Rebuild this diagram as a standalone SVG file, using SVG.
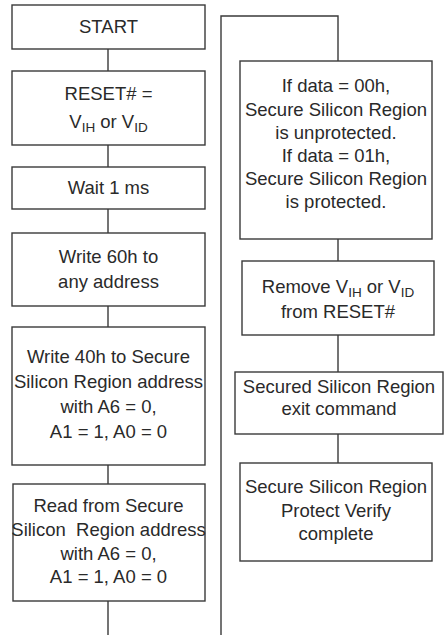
<svg xmlns="http://www.w3.org/2000/svg" width="444" height="635" viewBox="0 0 444 635">
<style>
.b{fill:#fff;stroke:#3a3a3a;stroke-width:1.4}
.c{fill:none;stroke:#3a3a3a;stroke-width:1.4}
text{font-family:"Liberation Sans",Arial,sans-serif;font-size:18.5px;fill:#2a2a2a;text-anchor:middle}
tspan.s{font-size:13.5px}
</style>
<rect width="444" height="635" fill="#fff"/>
<g id="connectors">
<path class="c" d="M108,49V71M108,145V167M108,209V233M108,306V327M108,465V484M108,601V635"/>
<path class="c" d="M221,635V16H338V61"/>
<path class="c" d="M338,239V261M338,335V372M338,434V463"/>
</g>
<g id="start"><rect class="b" x="12" y="5" width="193" height="44"/><text x="108.5" y="33">START</text></g>
<g id="reset"><rect class="b" x="12" y="71" width="193" height="74"/><text x="108.5" y="100">RESET# =</text><text x="108.5" y="128">V<tspan class="s" dy="4">IH</tspan><tspan dy="-4"> or V</tspan><tspan class="s" dy="4">ID</tspan></text></g>
<g id="wait"><rect class="b" x="12" y="167" width="193" height="42"/><text x="108.5" y="194">Wait 1 ms</text></g>
<g id="write60"><rect class="b" x="12" y="233" width="193" height="73"/><text x="108.5" y="263">Write 60h to</text><text x="108.5" y="288">any address</text></g>
<g id="write40"><rect class="b" x="12" y="327" width="193" height="138"/><text x="108.5" y="363">Write 40h to Secure</text><text x="108.5" y="388">Silicon Region address</text><text x="108.5" y="413">with A6 = 0,</text><text x="108.5" y="438">A1 = 1, A0 = 0</text></g>
<g id="read"><rect class="b" x="13" y="484" width="192" height="117"/><text x="108.5" y="512">Read from Secure</text><text x="108.5" y="536" style="white-space:pre">Silicon  Region address</text><text x="108.5" y="560">with A6 = 0,</text><text x="108.5" y="583">A1 = 1, A0 = 0</text></g>
<g id="check"><rect class="b" x="240" y="61" width="192" height="178"/><text x="336" y="92">If data = 00h,</text><text x="336" y="116">Secure Silicon Region</text><text x="336" y="139">is unprotected.</text><text x="336" y="162">If data = 01h,</text><text x="336" y="185">Secure Silicon Region</text><text x="336" y="208">is protected.</text></g>
<g id="remove"><rect class="b" x="242" y="261" width="192" height="74"/><text x="338" y="293">Remove V<tspan class="s" dy="4">IH</tspan><tspan dy="-4"> or V</tspan><tspan class="s" dy="4">ID</tspan></text><text x="338" y="318">from RESET#</text></g>
<g id="exit"><rect class="b" x="235" y="372" width="208" height="62"/><text x="339" y="393">Secured Silicon Region</text><text x="339" y="415">exit command</text></g>
<g id="complete"><rect class="b" x="240" y="463" width="192" height="98"/><text x="336" y="493">Secure Silicon Region</text><text x="336" y="517">Protect Verify</text><text x="336" y="540">complete</text></g>
</svg>
